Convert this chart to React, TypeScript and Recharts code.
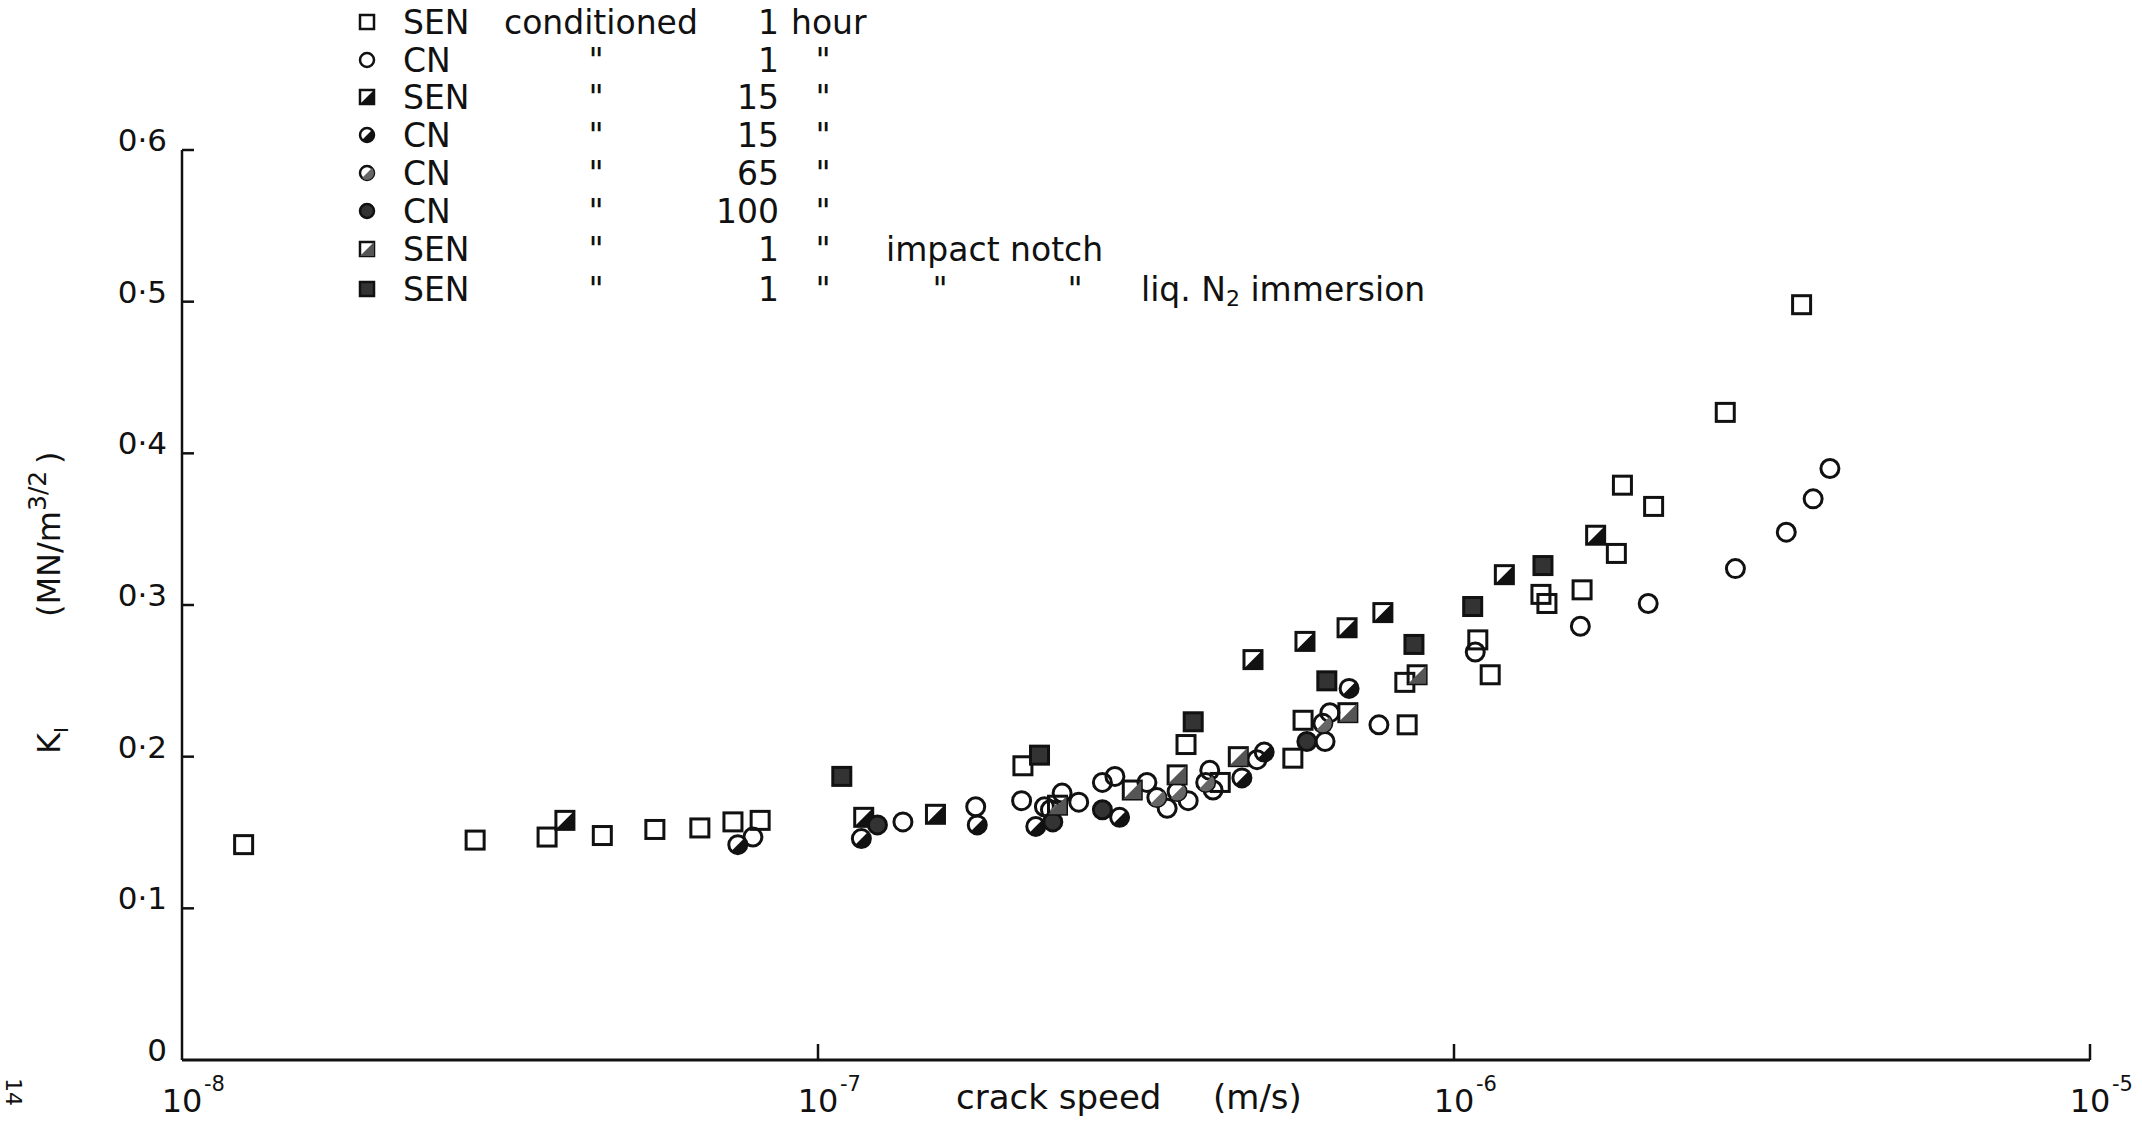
import React from "react";
import { ScatterChart, Scatter, XAxis, YAxis } from "recharts";

// crack speed (m/s), K_I (MN/m^3/2)
const senOneHour: [number, number][] = [
  [1.25e-8, 0.142], [2.89e-8, 0.145], [3.75e-8, 0.147], [4.58e-8, 0.148], [5.54e-8, 0.152],
  [6.52e-8, 0.153], [7.35e-8, 0.157], [8.11e-8, 0.158], [2.1e-7, 0.194], [3.79e-7, 0.208],
  [4.29e-7, 0.183], [5.58e-7, 0.199], [5.79e-7, 0.224], [8.37e-7, 0.249], [8.44e-7, 0.221],
  [1.09e-6, 0.277], [1.14e-6, 0.254], [1.37e-6, 0.307], [1.4e-6, 0.301], [1.59e-6, 0.31],
  [1.8e-6, 0.334], [1.84e-6, 0.379], [2.06e-6, 0.365], [2.67e-6, 0.427], [3.52e-6, 0.498],
];
const cnOneHour: [number, number][] = [
  [7.9e-8, 0.147], [1.36e-7, 0.157], [1.77e-7, 0.167], [2.09e-7, 0.171], [2.27e-7, 0.167],
  [2.42e-7, 0.176], [2.57e-7, 0.17], [2.8e-7, 0.183], [2.93e-7, 0.187], [3.29e-7, 0.183],
  [3.54e-7, 0.166], [3.82e-7, 0.171], [4.18e-7, 0.178], [4.13e-7, 0.191], [4.9e-7, 0.198],
  [6.27e-7, 0.21], [6.38e-7, 0.229], [7.62e-7, 0.221], [1.08e-6, 0.269], [1.58e-6, 0.286],
  [2.02e-6, 0.301], [2.77e-6, 0.324], [3.33e-6, 0.348], [3.67e-6, 0.37], [3.9e-6, 0.39],
];
const senFifteen: [number, number][] = [
  [4.0e-8, 0.158], [1.18e-7, 0.16], [1.53e-7, 0.162], [4.83e-7, 0.264], [5.83e-7, 0.276],
  [6.79e-7, 0.285], [7.73e-7, 0.295], [1.2e-6, 0.32], [1.67e-6, 0.346],
];
const cnFifteen: [number, number][] = [
  [7.48e-8, 0.142], [1.17e-7, 0.146], [1.78e-7, 0.155], [2.2e-7, 0.154], [2.98e-7, 0.16],
  [4.64e-7, 0.186], [5.03e-7, 0.203], [6.84e-7, 0.245],
];
const cnSixtyFive: [number, number][] = [
  [2.32e-7, 0.165], [3.41e-7, 0.173], [3.67e-7, 0.177], [4.07e-7, 0.183], [6.22e-7, 0.222],
];
const cnHundred: [number, number][] = [
  [1.24e-7, 0.155], [2.34e-7, 0.157], [2.8e-7, 0.165], [5.87e-7, 0.21],
];
const senImpact: [number, number][] = [
  [2.38e-7, 0.168], [3.12e-7, 0.178], [3.67e-7, 0.188], [4.58e-7, 0.2], [6.81e-7, 0.229],
  [8.75e-7, 0.254],
];
const senNitrogen: [number, number][] = [
  [1.09e-7, 0.187], [2.23e-7, 0.201], [3.89e-7, 0.223], [6.31e-7, 0.25], [8.65e-7, 0.274],
  [1.07e-6, 0.299], [1.38e-6, 0.326],
];

const xTicks = [1e-8, 1e-7, 1e-6, 1e-5];
const xTickExponents = ["-8", "-7", "-6", "-5"];
const yTicks = [0, 0.1, 0.2, 0.3, 0.4, 0.5, 0.6];
const yTickLabels = ["0", "0·1", "0·2", "0·3", "0·4", "0·5", "0·6"];

const legendKinds = ["sen1", "cn1", "sen15", "cn15", "cn65", "cn100", "senImpact", "senN2"];
const legendSpecimens = ["SEN", "CN", "SEN", "CN", "CN", "CN", "SEN", "SEN"];
const legendHours = ["1", "1", "15", "15", "65", "100", "1", "1"];

const INK = "#111";
const FONT = "'DejaVu Sans', 'Liberation Sans', sans-serif";

type Kind = string;

function Marker({ kind, cx, cy, h = 9, sw = 3 }: { kind: Kind; cx: number; cy: number; h?: number; sw?: number }) {
  const isSquare = kind.startsWith("sen");
  if (isSquare) {
    const tri = `${cx - h},${cy + h} ${cx + h},${cy - h} ${cx + h},${cy + h}`;
    return (
      <g>
        <rect x={cx - h} y={cy - h} width={2 * h} height={2 * h}
          fill={kind === "senN2" ? "#333" : "none"} stroke={INK} strokeWidth={sw} />
        {kind === "sen15" && <polygon points={tri} fill={INK} />}
        {kind === "senImpact" && <polygon points={tri} fill="#555" />}
      </g>
    );
  }
  const d = h * 0.7071;
  const half = `M${cx - d},${cy + d} A${h},${h} 0 0 0 ${cx + d},${cy - d} Z`;
  return (
    <g>
      <circle cx={cx} cy={cy} r={h} fill={kind === "cn100" ? "#333" : "none"} stroke={INK} strokeWidth={sw} />
      {kind === "cn15" && <path d={half} fill={INK} />}
      {kind === "cn65" && <path d={half} fill="#666" />}
    </g>
  );
}

const series = [
  { kind: "sen1", points: senOneHour },
  { kind: "cn1", points: cnOneHour },
  { kind: "sen15", points: senFifteen },
  { kind: "cn15", points: cnFifteen },
  { kind: "cn65", points: cnSixtyFive },
  { kind: "cn100", points: cnHundred },
  { kind: "senImpact", points: senImpact },
  { kind: "senN2", points: senNitrogen },
];

function XTick(props: any) {
  const { x, y, index } = props;
  return (
    <g>
      {index > 0 && <line x1={x} y1={y} x2={x} y2={y - 16} stroke={INK} strokeWidth={2.5} />}
      <text x={x} y={y + 52} textAnchor="middle" fontSize={32} fill={INK} fontFamily={FONT}>10</text>
      <text x={x + 22} y={y + 31} textAnchor="start" fontSize={21} fill={INK} fontFamily={FONT}>
        {xTickExponents[index]}
      </text>
    </g>
  );
}

function YTick(props: any) {
  const { x, y, index } = props;
  return (
    <g>
      {index > 0 && <line x1={x} y1={y} x2={x + 12} y2={y} stroke={INK} strokeWidth={2.5} />}
      <text x={x - 15} y={y - 10} textAnchor="end" dominantBaseline="central" fontSize={31} fill={INK} fontFamily={FONT}>
        {yTickLabels[index]}
      </text>
    </g>
  );
}

const rowY = [22, 60, 97, 135, 173, 211, 249, 289];

export default function App() {
  const textProps = { fontSize: 33, fill: INK, fontFamily: FONT, dominantBaseline: "central" as const };
  return (
    <div style={{ position: "absolute", left: 0, top: 0, width: 2142, height: 1121, background: "#fff" }}>
      <ScatterChart width={2142} height={1121} margin={{ top: 150, right: 52, bottom: 40, left: 162 }}>
        <XAxis type="number" dataKey="x" scale="log" domain={[1e-8, 1e-5]} ticks={xTicks} interval={0}
          allowDataOverflow height={21} tickSize={0} tickMargin={0} tickLine={false}
          axisLine={{ stroke: INK, strokeWidth: 3 }} tick={(p: any) => <XTick {...p} />} />
        <YAxis type="number" dataKey="y" domain={[0, 0.6]} ticks={yTicks} interval={0}
          allowDataOverflow width={20} tickSize={0} tickMargin={0} tickLine={false}
          axisLine={{ stroke: INK, strokeWidth: 2.5 }} tick={(p: any) => <YTick {...p} />} />
        {series.map((s) => (
          <Scatter key={s.kind} data={s.points.map(([x, y]) => ({ x, y }))} isAnimationActive={false}
            shape={(p: any) => <Marker kind={s.kind} cx={p.cx} cy={p.cy} />} />
        ))}
      </ScatterChart>

      <svg width={2142} height={1121} style={{ position: "absolute", left: 0, top: 0, pointerEvents: "none" }}>
        {/* legend */}
        {legendKinds.map((k, i) => (
          <g key={k}>
            <Marker kind={k} cx={367} cy={rowY[i]} h={7} sw={2.5} />
            <text x={403} y={rowY[i]} {...textProps}>{legendSpecimens[i]}</text>
            {i === 0
              ? <text x={504} y={rowY[i]} {...textProps}>conditioned</text>
              : <text x={596} y={rowY[i]} textAnchor="middle" {...textProps}>"</text>}
            <text x={779} y={rowY[i]} textAnchor="end" {...textProps}>{legendHours[i]}</text>
            {i === 0
              ? <text x={791} y={rowY[i]} {...textProps}>hour</text>
              : <text x={823} y={rowY[i]} textAnchor="middle" {...textProps}>"</text>}
          </g>
        ))}
        <text x={886} y={rowY[6]} {...textProps}>impact  notch</text>
        <text x={940} y={rowY[7]} textAnchor="middle" {...textProps}>"</text>
        <text x={1075} y={rowY[7]} textAnchor="middle" {...textProps}>"</text>
        <text x={1141} y={rowY[7]} {...textProps}>
          liq. N<tspan fontSize={22} dy={9}>2</tspan><tspan dy={-9}>  immersion</tspan>
        </text>

        {/* axis titles */}
        <text x={956} y={1109} fontSize={34} fill={INK} fontFamily={FONT}>
          crack speed<tspan x={1213}>(m/s)</tspan>
        </text>
        <text transform="translate(60,754) rotate(-90)" fontSize={32} fill={INK} fontFamily={FONT}>
          K<tspan fontSize={20} dy={8}>I</tspan>
          <tspan x={137} dy={-8}>(MN/m</tspan>
          <tspan fontSize={25} dy={-14}>3/2</tspan>
          <tspan x={290} dy={14}>)</tspan>
        </text>
        <text transform="translate(6,1078) rotate(90)" fontSize={22} fill={INK} fontFamily={FONT}>14</text>
      </svg>
    </div>
  );
}
